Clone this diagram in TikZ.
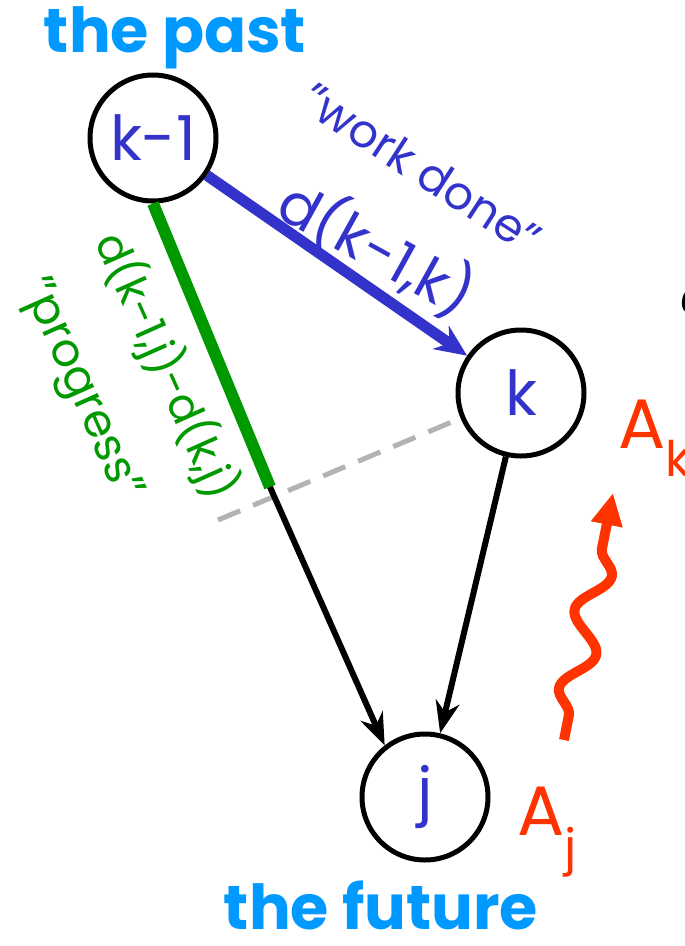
\documentclass[tikz,border=0pt]{standalone}
\usepackage{fontspec}
\setmainfont{Poppins}
\usetikzlibrary{arrows.meta,decorations.pathmorphing}

\definecolor{workblue}{HTML}{3333CC}
\definecolor{timecyan}{HTML}{0099FF}
\definecolor{progreen}{HTML}{009900}
\definecolor{seqred}{HTML}{FF3300}
\definecolor{projgray}{HTML}{B3B3B3}

\begin{document}
\begin{tikzpicture}[x=1pt,y=-1pt,
    state/.style={circle,draw=black,line width=5pt,minimum size=126pt,inner sep=0pt,
      text=workblue,font=\fontsize{62}{64}\selectfont},
    timelabel/.style={text=timecyan,font=\fontsize{62}{66}\selectfont\bfseries},
    worklabel/.style={text=workblue,inner sep=0pt},
    proglabel/.style={text=progreen,inner sep=0pt},
    seqlabel/.style={text=seqred,inner sep=0pt,font=\fontsize{70}{74}\selectfont},
    tip/.style={-{Stealth[length=32pt,width=24pt]}}]

  \useasboundingbox (0,0) rectangle (685,946);

  \node[state] (km1) at (153,138) {k-1};
  \node[state] (k) at (521,393) {k};
  \node[state] (j) at (425,797) {j};

  \node[timelabel] (past) at (175,38) {the past};
  \node[timelabel] (future) at (381,905) {the future};

  \coordinate (prog) at (270,487);
  \coordinate (dashend) at (218,520);

  \draw[projgray,line width=5pt,dash pattern=on 24pt off 14pt] (dashend) -- (k);
  \draw[progreen,line width=12pt] (km1.south) -- (prog);
  \draw[tip,line width=6pt] (prog) -- (j.128);
  \draw[tip,line width=6pt] (k) -- (j);
  \draw[workblue,line width=11pt,-{Stealth[length=32pt,width=28pt]}] (km1) -- (k);

  \node[worklabel,rotate=-29,font=\fontsize{58}{62}\selectfont] (dist) at (377,248) {d(k-1,k)};
  \node[worklabel,rotate=-33,font=\fontsize{46}{50}\selectfont] (work) at (422,168) {"work done"};

  \node[proglabel,rotate=-66,font=\fontsize{44}{48}\selectfont] (diff) at (166,366) {d(k-1,j)-d(k,j)};
  \node[proglabel,rotate=-66,font=\fontsize{46}{50}\selectfont] (progress) at (79,390) {"progress"};

  \node[seqlabel] (ak) at (655,438) {A$_{\mathrm{k}}$};
  \node[seqlabel] (aj) at (547,832) {A$_{\mathrm{j}}$};

  \coordinate (wavestart) at (564,740);
  \coordinate (waveend) at (613,493);
  \draw[seqred,line width=10pt,-{Triangle[length=32pt,width=30pt]},
    decorate,decoration={snake,segment length=80pt,amplitude=15pt,pre length=25pt,post length=50pt}]
    (wavestart) -- (waveend);

  \node[font=\fontsize{60}{60}\selectfont\itshape] (cut) at (694,300) {\fontspec{Liberation Serif}c};

\end{tikzpicture}
\end{document}
